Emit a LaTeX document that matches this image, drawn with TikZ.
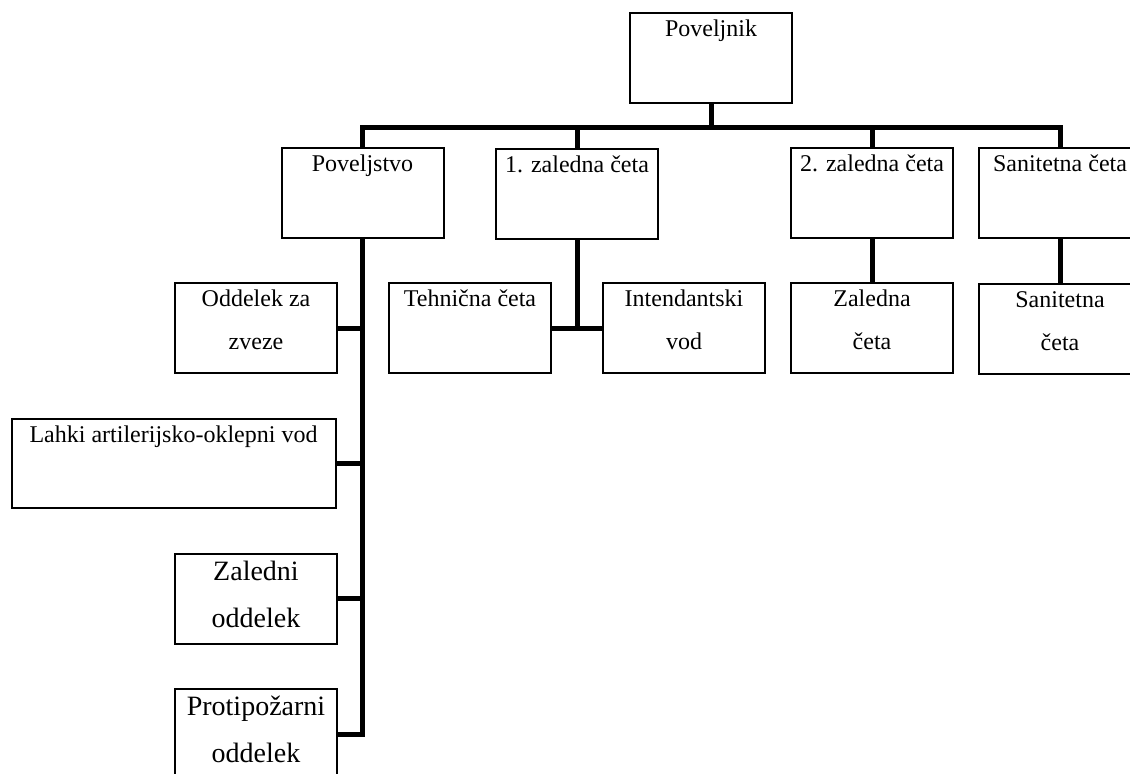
\documentclass[tikz,border=0pt]{standalone}
\usepackage{fontspec}
\setmainfont{Liberation Serif}
\usepackage{tikz}

\newcommand{\hstrut}{\rule{0pt}{0.75em}}

\tikzset{
  unit/.style={draw, line width=1pt, minimum width=81pt, minimum height=45pt, inner sep=0pt},
  wideunit/.style={unit, minimum width=162pt, minimum height=44.5pt},
  caption/.style={anchor=north, align=center, inner sep=0pt, yshift=-3pt, font=\fontsize{12pt}{21.5pt}\selectfont},
  bigcaption/.style={caption, font=\fontsize{14pt}{23.5pt}\selectfont},
  link/.style={line width=2.5pt, line join=miter}
}

\begin{document}
\begin{tikzpicture}[x=0.5pt, y=-0.5pt]

\clip (0,0) rectangle (1130,774);

% top level
\node[unit] (pvn) at (711,58) {};
\node[caption] (pvntxt) at (pvn.north) {\hstrut Poveljnik};

% second level
\node[unit] (pvs) at (362.5,193) {};
\node[unit] (zc1) at (577,194) {};
\node[unit] (zc2) at (872,193.5) {};
\node[unit] (san) at (1060,193.5) {};
\node[caption] (pvstxt) at (pvs.north) {\hstrut Poveljstvo};
\node[caption] (zc1txt) at (zc1.north) {\hstrut 1. zaledna četa};
\node[caption] (zc2txt) at (zc2.north) {\hstrut 2. zaledna četa};
\node[caption] (santxt) at (san.north) {\hstrut Sanitetna četa};

% third level
\node[unit] (teh) at (470,328.5) {};
\node[unit] (int) at (684,328.5) {};
\node[unit] (zal) at (872,328.5) {};
\node[unit] (sanb) at (1060,329) {};
\node[caption] (tehtxt) at (teh.north) {\hstrut Tehnična četa};
\node[caption] (inttxt) at (int.north) {\hstrut Intendantski\\vod};
\node[caption] (zaltxt) at (zal.north) {\hstrut Zaledna\\četa};
\node[caption] (sanbtxt) at (sanb.north) {\hstrut Sanitetna\\četa};

% units under Poveljstvo
\node[unit] (zve) at (256,328.5) {};
\node[wideunit] (lah) at (173.5,463.5) {};
\node[unit] (zod) at (256,599) {};
\node[unit] (pro) at (256,734) {};
\node[caption] (zvetxt) at (zve.north) {\hstrut Oddelek za\\zveze};
\node[caption] (lahtxt) at (lah.north) {\hstrut Lahki artilerijsko-oklepni vod};
\node[bigcaption] (zodtxt) at (zod.north) {\hstrut Zaledni\\oddelek};
\node[bigcaption] (protxt) at (pro.north) {\hstrut Protipožarni\\oddelek};

% main bar
\coordinate (bar) at (0,128);
\draw[link] (pvn.south) -- (pvn.south |- bar);
\draw[link] (pvs.north) |- (bar -| san.north) -- (san.north);
\draw[link] (zc1.north) -- (zc1.north |- bar);
\draw[link] (zc2.north) -- (zc2.north |- bar);

% lower links
\draw[link] (zc1.south) -- (zc1.south |- teh.east);
\draw[link] (teh.east) -- (int.west);
\draw[link] (zc2.south) -- (zal.north);
\draw[link] (san.south) -- (sanb.north);

% Poveljstvo branch
\draw[link] (pvs.south) |- (pro.east);
\draw[link] (zve.east) -- (zve.east -| pvs.south);
\draw[link] (lah.east) -- (lah.east -| pvs.south);
\draw[link] (zod.east) -- (zod.east -| pvs.south);

\end{tikzpicture}
\end{document}
